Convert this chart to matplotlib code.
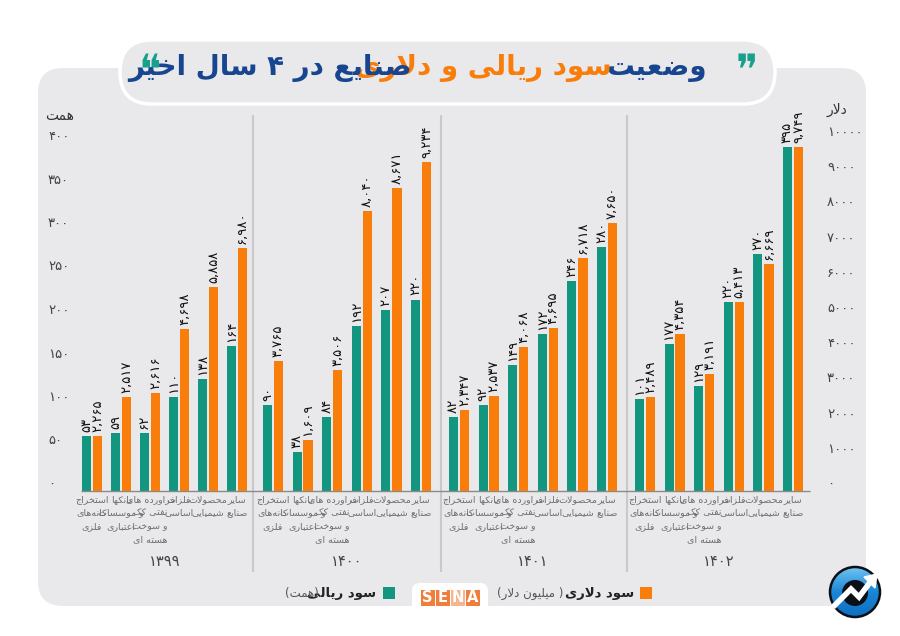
import numpy as np
import matplotlib
matplotlib.use('Agg')
import matplotlib.pyplot as plt
from matplotlib.patches import FancyBboxPatch, Circle, Rectangle

# data, bar heights (they don't follow the printed numbers exactly)
years = ['۱۳۹۹', '۱۴۰۰', '۱۴۰۱', '۱۴۰۲']
categories = [
    ['استخراج', 'کانه\u200cهای', 'فلزی'],
    ['بانکها', 'و موسسات', 'اعتباری'],
    ['فراورده های', 'نفتی کک', 'و سوخت', 'هسته ای'],
    ['فلزات', 'اساسی'],
    ['محصولات', 'شیمیایی'],
    ['سایر', 'صنایع'],
]
rial_1399 = [63, 67, 67, 108, 129, 167]
rial_1400 = [99, 45, 85, 190, 208, 220]
rial_1401 = [85, 99, 145, 180, 241, 280]
rial_1402 = [106, 169, 121, 217, 272, 395]
dollar_1399 = [1563, 2670, 2784, 4602, 5795, 6903]
dollar_1400 = [3693, 1449, 3438, 7955, 8608, 9347]
dollar_1401 = [2301, 2699, 4091, 4631, 6619, 7614]
dollar_1402 = [2670, 4460, 3324, 5369, 6449, 9773]
rial_labels = [
    ['۵۳', '۵۹', '۶۲', '۱۱۰', '۱۳۸', '۱۶۴'],
    ['۹۰', '۳۸', '۸۴', '۱۹۲', '۲۰۷', '۲۲۰'],
    ['۸۲', '۹۲', '۱۴۹', '۱۷۲', '۲۴۶', '۲۸۰'],
    ['۱۰۱', '۱۷۷', '۱۲۹', '۲۲۰', '۲۷۰', '۳۹۵'],
]
dollar_labels = [
    ['۲,۲۶۵', '۲,۵۱۷', '۲,۶۱۶', '۴,۶۹۸', '۵,۸۵۸', '۶,۹۸۰'],
    ['۳,۷۶۵', '۱,۶۰۹', '۳,۵۰۶', '۸,۰۴۰', '۸,۶۷۱', '۹,۲۳۴'],
    ['۲,۳۴۷', '۲,۵۳۷', '۴,۰۶۸', '۴,۶۹۵', '۶,۷۱۸', '۷,۶۵۰'],
    ['۲,۴۸۹', '۴,۳۵۴', '۳,۱۹۱', '۵,۴۱۳', '۶,۶۶۹', '۹,۷۴۹'],
]
rial_ticks = [0, 50, 100, 150, 200, 250, 300, 350, 400]
rial_ticklabels = ['۰', '۵۰', '۱۰۰', '۱۵۰', '۲۰۰', '۲۵۰', '۳۰۰', '۳۵۰', '۴۰۰']
dollar_ticks = [0, 1000, 2000, 3000, 4000, 5000, 6000, 7000, 8000, 9000, 10000]
dollar_ticklabels = ['۰', '۱۰۰۰', '۲۰۰۰', '۳۰۰۰', '۴۰۰۰', '۵۰۰۰', '۶۰۰۰', '۷۰۰۰', '۸۰۰۰', '۹۰۰۰', '۱۰۰۰۰']

rial = [rial_1399, rial_1400, rial_1401, rial_1402]
dollar = [dollar_1399, dollar_1400, dollar_1401, dollar_1402]

GREEN = '#12967f'
ORANGE = '#f97d0b'
BLUE = '#17458f'
GREY_BG = '#e9e9eb'

# matplotlib has no arabic shaping, so map letters to presentation forms by hand
FORMS = {
    'ا': (0xFE8D, 0xFE8E), 'آ': (0xFE81, 0xFE82), 'د': (0xFEA9, 0xFEAA), 'ر': (0xFEAD, 0xFEAE),
    'ز': (0xFEAF, 0xFEB0), 'و': (0xFEED, 0xFEEE),
    'ب': (0xFE8F, 0xFE90, 0xFE91, 0xFE92), 'پ': (0xFB56, 0xFB57, 0xFB58, 0xFB59),
    'ت': (0xFE95, 0xFE96, 0xFE97, 0xFE98), 'ج': (0xFE9D, 0xFE9E, 0xFE9F, 0xFEA0),
    'ح': (0xFEA1, 0xFEA2, 0xFEA3, 0xFEA4), 'خ': (0xFEA5, 0xFEA6, 0xFEA7, 0xFEA8),
    'س': (0xFEB1, 0xFEB2, 0xFEB3, 0xFEB4), 'ش': (0xFEB5, 0xFEB6, 0xFEB7, 0xFEB8),
    'ص': (0xFEB9, 0xFEBA, 0xFEBB, 0xFEBC), 'ض': (0xFEBD, 0xFEBE, 0xFEBF, 0xFEC0),
    'ع': (0xFEC9, 0xFECA, 0xFECB, 0xFECC), 'ف': (0xFED1, 0xFED2, 0xFED3, 0xFED4),
    'ق': (0xFED5, 0xFED6, 0xFED7, 0xFED8), 'ک': (0xFB8E, 0xFB8F, 0xFB90, 0xFB91),
    'ل': (0xFEDD, 0xFEDE, 0xFEDF, 0xFEE0), 'م': (0xFEE1, 0xFEE2, 0xFEE3, 0xFEE4),
    'ن': (0xFEE5, 0xFEE6, 0xFEE7, 0xFEE8), 'ه': (0xFEE9, 0xFEEA, 0xFEEB, 0xFEEC),
    'ی': (0xFBFC, 0xFBFD, 0xFBFE, 0xFBFF),
}
MIRROR = {'(': ')', ')': '('}


def shape(text):
    out = []
    i = 0
    n = len(text)
    while i < n:
        c = text[i]
        if c == '\u200c':
            i += 1
            continue
        if c not in FORMS:
            out.append(MIRROR.get(c, c))
            i += 1
            continue
        prev_joins = i > 0 and text[i - 1] in FORMS and len(FORMS[text[i - 1]]) == 4
        # lam + alef is one glyph
        if c == 'ل' and i + 1 < n and text[i + 1] == 'ا':
            out.append(chr(0xFEFC if prev_joins else 0xFEFB))
            i += 2
            continue
        next_joins = i + 1 < n and text[i + 1] in FORMS
        f = FORMS[c]
        if len(f) == 2:
            out.append(chr(f[1] if prev_joins else f[0]))
        elif prev_joins and next_joins:
            out.append(chr(f[3]))
        elif prev_joins:
            out.append(chr(f[1]))
        elif next_joins:
            out.append(chr(f[2]))
        else:
            out.append(chr(f[0]))
        i += 1
    return ''.join(reversed(out))


plt.rcParams['font.family'] = ['DejaVu Sans']

fig = plt.figure(figsize=(9, 6.36), dpi=100, facecolor='white')

# background layer in pixel coordinates
bg = fig.add_axes([0, 0, 1, 1], zorder=0)
bg.set_xlim(0, 900)
bg.set_ylim(636, 0)
bg.axis('off')
bg.add_patch(FancyBboxPatch((38 + 25, 68 + 25), 828 - 50, 538 - 50,
                            boxstyle='round,pad=25,rounding_size=25', fc=GREY_BG, ec='none'))
bg.add_patch(FancyBboxPatch((120 + 32, 40 + 32), 655 - 64, 64 - 64 + 0.01,
                            boxstyle='round,pad=32,rounding_size=32', fc=GREY_BG, ec='white', lw=2.5))
for sep_x in [253, 441, 627]:
    bg.plot([sep_x, sep_x], [115, 572], color='#c9c9c9', lw=1.5, solid_capstyle='butt')

# title, three coloured pieces
bg.text(707, 68, shape('وضعیت'), color=BLUE, fontsize=20, fontweight='bold', ha='right', va='center')
bg.text(612, 68, shape('سود ریالی و دلاری'), color=ORANGE, fontsize=20, fontweight='bold', ha='right', va='center')
bg.text(412, 68, shape('صنایع در ۴ سال اخیر'), color=BLUE, fontsize=20, fontweight='bold', ha='right', va='center')
bg.text(747, 72, '\u275e', color='#17a08a', fontsize=30, ha='center', va='center')
bg.text(150, 72, '\u275d', color='#17a08a', fontsize=30, ha='center', va='center')

# axis names
bg.text(74, 116, shape('همت'), color='#333333', fontsize=10, ha='right', va='center')
bg.text(847, 110, shape('دلار'), color='#333333', fontsize=10, ha='right', va='center')

# chart axes, x in pixels so groups sit where they should
left, right, base, top = 68, 815, 491, 100
ax = fig.add_axes([left / 900, (636 - base) / 636, (right - left) / 900, (base - top) / 636], zorder=2)
ax.patch.set_alpha(0)
ax.set_xlim(left, right)
ax.set_ylim(0, (base - top) / 0.87)
ax2 = ax.twinx()
ax2.patch.set_alpha(0)
ax2.set_ylim(0, (base - top) / 0.0352)

group_start = [86.5, 267.5, 453.5, 639.5]
group_pitch = [29.0, 29.6, 29.6, 29.6]
for g in range(4):
    xs = group_start[g] + group_pitch[g] * np.arange(6)
    ax.bar(xs, rial[g], width=9, color=GREEN)
    ax2.bar(xs + 11, dollar[g], width=9.5, color=ORANGE)
    for i in range(6):
        ax.annotate(rial_labels[g][i], (xs[i], rial[g][i]), xytext=(0, 3), textcoords='offset points',
                    rotation=90, ha='center', va='bottom', fontsize=9.5, color='#111111')
        ax2.annotate(dollar_labels[g][i], (xs[i] + 11, dollar[g][i]), xytext=(0, 3), textcoords='offset points',
                     rotation=90, ha='center', va='bottom', fontsize=9.5, color='#111111')
        bg.text(xs[i] + 5.5, 495, '\n'.join(shape(s) for s in categories[i]), fontsize=6.8, color='#6e6e6e',
                ha='center', va='top', linespacing=1.62, multialignment='center')
    bg.text(xs.mean() + 5.5, 561, years[g], fontsize=10.5, color='#444444', ha='center', va='center')

ax.hlines(0, 81, 810, color='#8a8a8a', lw=1, zorder=3, clip_on=False)

for a in (ax, ax2):
    for s in a.spines.values():
        s.set_visible(False)
ax.set_xticks([])
ax.set_yticks(rial_ticks, rial_ticklabels)
ax.tick_params(axis='y', length=0, pad=(left - 48) * 0.72, labelsize=9.5, labelcolor='#444444')
for lab in ax.get_yticklabels():
    lab.set_ha('left')
    lab.set_va('bottom')
ax2.set_yticks(dollar_ticks, dollar_ticklabels)
ax2.tick_params(axis='y', length=0, pad=(827 - right) * 0.72, labelsize=9.5, labelcolor='#444444')
for lab in ax2.get_yticklabels():
    lab.set_va('bottom')

# legend
bg.add_patch(Rectangle((640, 587), 12, 12, fc=ORANGE, ec='none'))
bg.text(634, 593, shape('سود دلاری'), fontsize=9.5, fontweight='bold', color='#222222', ha='right', va='center')
bg.text(563, 593, shape('( میلیون دلار)'), fontsize=8.5, color='#555555', ha='right', va='center')
bg.add_patch(Rectangle((383, 587), 12, 12, fc=GREEN, ec='none'))
bg.text(376, 593, shape('سود ریالی'), fontsize=9.5, fontweight='bold', color='#222222', ha='right', va='center')
bg.text(319, 593, shape('(همت)'), fontsize=8.5, color='#555555', ha='right', va='center')

# SENA badge
bg.add_patch(FancyBboxPatch((418, 589), 64, 27, boxstyle='round,pad=6,rounding_size=8', fc='white', ec='none'))
for k, (ch, col) in enumerate(zip('SENA', ['#ef7d3c', '#ef7d3c', '#f6b48f', '#ef7d3c'])):
    bg.add_patch(Rectangle((420.5 + 15 * k, 590), 14, 16, fc=col, ec='none'))
    bg.text(427.5 + 15 * k, 598, ch, color='white', fontsize=10.5, fontweight='bold', ha='center', va='center')

# round logo
cx, cy, r = 855, 592, 25
grad = np.linspace(0, 1, 64).reshape(-1, 1)
im = bg.imshow(grad, extent=(cx - r, cx + r, cy + r, cy - r), cmap=matplotlib.colors.LinearSegmentedColormap.from_list(
    'logo', ['#6fc3f0', '#1b86d6', '#0f6fc0']), aspect='auto', zorder=3)
im.set_clip_path(Circle((cx, cy), r, transform=bg.transData))
bg.set_xlim(0, 900)
bg.set_ylim(636, 0)
bg.add_patch(Circle((cx, cy), r, fc='none', ec='#0b0f18', lw=1.8, zorder=5))
bg.add_patch(Circle((cx, cy + 1), 13, fc='#0b0f18', ec='none', zorder=4))
bg.plot([835, 851, 859, 871], [605, 589, 597, 581], color='white', lw=4, zorder=6, solid_joinstyle='miter')
bg.plot([864, 876, 874], [578, 576, 589], color='white', lw=0, zorder=6)
bg.fill([864, 877, 875], [577, 574, 588], color='white', zorder=6)

fig.savefig('out.png', dpi=100)
